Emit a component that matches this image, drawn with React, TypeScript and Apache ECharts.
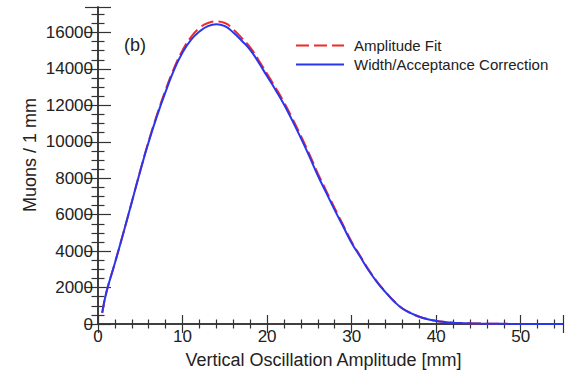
import React, { useEffect, useRef } from "react";
import * as echarts from "echarts";

const xs = [0.5, 1, 2, 3, 4, 5, 6, 7, 8, 9, 10, 11, 12, 13, 14, 15, 16, 17, 18, 19, 20, 21, 22, 23, 24, 25, 26, 27, 28, 29, 30, 31, 32, 33, 34, 35, 36, 37, 38, 39, 40, 41, 42, 43, 44, 45, 46, 48, 50, 52, 55];
const widthCorrection = [620, 1750, 3350, 5000, 6700, 8400, 10000, 11450, 12750, 13950, 14900, 15600, 16050, 16350, 16450, 16350, 16000, 15550, 15050, 14350, 13600, 12850, 12050, 11150, 10200, 9200, 8150, 7200, 6250, 5350, 4450, 3700, 2950, 2300, 1750, 1250, 850, 600, 400, 260, 170, 110, 70, 50, 35, 25, 15, 8, 4, 2, 0];
const amplitudeFit = [600, 1750, 3350, 5000, 6700, 8420, 10050, 11520, 12850, 14050, 15020, 15750, 16250, 16520, 16600, 16520, 16170, 15700, 15180, 14480, 13730, 12970, 12170, 11270, 10320, 9320, 8270, 7310, 6350, 5430, 4510, 3750, 2990, 2330, 1770, 1260, 860, 600, 400, 260, 170, 110, 70, 50, 35, 25, 15, 8, 4, 2, 0];
const seriesNames = ["Amplitude Fit", "Width/Acceptance Correction"];
const xTitle = "Vertical Oscillation Amplitude [mm]";
const yTitle = "Muons / 1 mm";
const panelLabel = "(b)";

const FONT = "'Liberation Sans', Arial, Helvetica, sans-serif";
const AXIS_COLOR = "#333";

export default function App() {
  const ref = useRef<HTMLDivElement>(null);
  useEffect(() => {
    if (!ref.current) return;
    const chart = echarts.init(ref.current, null, { renderer: "svg" });
    const axisCommon = {
      axisLine: { show: true, lineStyle: { color: AXIS_COLOR, width: 1.5 } },
      splitLine: { show: false },
    };
    const xBase = {
      type: "value" as const,
      min: 0,
      max: 55,
      interval: 10,
      ...axisCommon,
      minorTick: { show: true, splitNumber: 5, length: 4.5, lineStyle: { color: AXIS_COLOR, width: 1.2 } },
      axisTick: { show: true, inside: true, length: 9, lineStyle: { color: AXIS_COLOR, width: 1.2 } },
    };
    const yBase = {
      type: "value" as const,
      min: 0,
      max: 17400,
      interval: 2000,
      ...axisCommon,
      minorTick: { show: true, splitNumber: 4, length: 6.5, lineStyle: { color: AXIS_COLOR, width: 1.2 } },
      axisTick: { show: true, inside: true, length: 13, lineStyle: { color: AXIS_COLOR, width: 1.2 } },
    };
    const plain = (v: number) => String(v);
    chart.setOption({
      animation: false,
      backgroundColor: "#fff",
      grid: { left: 98, right: 2, top: 7, bottom: 49, containLabel: false },
      legend: {
        orient: "vertical",
        left: 290,
        top: 33,
        itemWidth: 48,
        itemHeight: 14,
        itemGap: 4,
        itemStyle: { opacity: 0 },
        textStyle: { fontFamily: FONT, fontSize: 15, color: "#222", padding: [0, 0, 0, 5] },
        data: seriesNames,
      },
      xAxis: [
        {
          ...xBase,
          position: "bottom",
          name: xTitle,
          nameLocation: "middle",
          nameGap: 27,
          nameTextStyle: { fontFamily: FONT, fontSize: 18, color: "#222", padding: [0, 14, 0, 0] },
          axisLabel: { show: true, margin: 4, fontFamily: FONT, fontSize: 17, color: "#222", showMaxLabel: false, formatter: plain },
        },
        {
          ...xBase,
          position: "top",
          axisLabel: { show: false },
        },
      ],
      yAxis: [
        {
          ...yBase,
          position: "left",
          axisLabel: { show: true, margin: 5, fontFamily: FONT, fontSize: 17, color: "#222", showMaxLabel: false, formatter: plain },
        },
        {
          ...yBase,
          position: "right",
          axisLabel: { show: false },
        },
      ],
      graphic: [
        {
          type: "text",
          x: 135,
          y: 45,
          style: { text: panelLabel, fontFamily: FONT, fontSize: 18, fill: "#222", align: "center", verticalAlign: "middle" },
        },
        {
          type: "text",
          x: 30,
          y: 155,
          rotation: Math.PI / 2,
          style: { text: yTitle, fontFamily: FONT, fontSize: 18, fill: "#222", align: "center", verticalAlign: "middle" },
        },
      ],
      series: [
        {
          name: seriesNames[0],
          type: "line",
          xAxisIndex: 0,
          yAxisIndex: 0,
          showSymbol: false,
          symbol: "none",
          smooth: true,
          lineStyle: { color: "#ee2b2b", width: 2, type: [13, 5] },
          itemStyle: { color: "#ee2b2b" },
          data: xs.map((x, i) => [x, amplitudeFit[i]]),
        },
        {
          name: seriesNames[1],
          type: "line",
          xAxisIndex: 0,
          yAxisIndex: 0,
          showSymbol: false,
          symbol: "none",
          smooth: true,
          lineStyle: { color: "#2a35ee", width: 2 },
          itemStyle: { color: "#2a35ee" },
          data: xs.map((x, i) => [x, widthCorrection[i]]),
        },
      ],
    });
    return () => chart.dispose();
  }, []);
  return <div ref={ref} style={{ position: "absolute", left: 0, top: 0, width: 565, height: 374 }} />;
}
